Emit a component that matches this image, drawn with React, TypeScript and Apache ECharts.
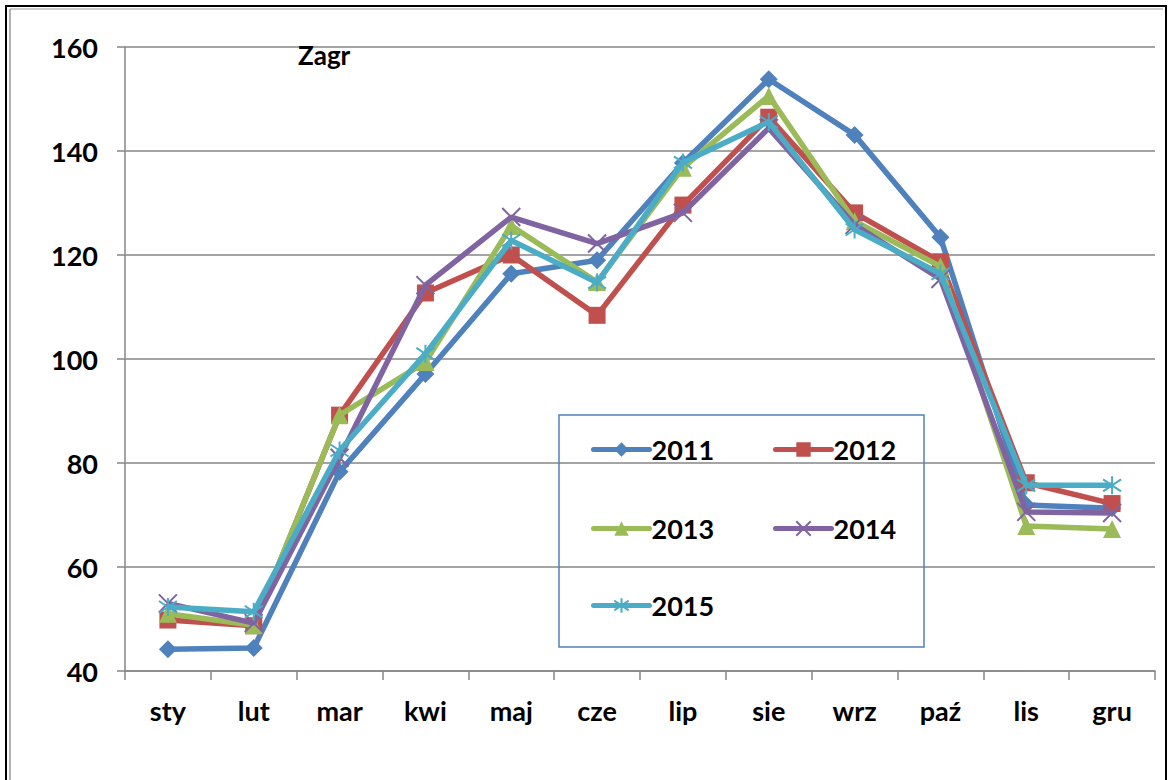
import React, { useEffect, useRef } from "react";
import * as echarts from "echarts";

const categories = ["sty", "lut", "mar", "kwi", "maj", "cze", "lip", "sie", "wrz", "paź", "lis", "gru"];
const s2011 = [44.2, 44.4, 78.3, 97.1, 116.4, 119.0, 137.7, 153.8, 143.1, 123.4, 71.9, 71.3];
const s2012 = [49.8, 48.7, 89.2, 112.7, 120.0, 108.4, 129.6, 146.5, 128.1, 118.7, 76.2, 72.2];
const s2013 = [51.0, 48.8, 89.2, 99.4, 125.6, 114.8, 136.8, 150.6, 126.5, 117.8, 67.9, 67.3];
const s2014 = [53.0, 49.2, 81.0, 114.2, 127.3, 122.2, 128.1, 144.4, 125.8, 115.4, 70.6, 70.4];
const s2015 = [52.3, 51.4, 82.4, 101.0, 122.8, 114.7, 137.8, 145.6, 124.9, 116.4, 75.7, 75.7];
const yTicks = { min: 40, max: 160, interval: 20 };

const seriesNames = ["2011", "2012", "2013", "2014", "2015"];
const seriesData = [s2011, s2012, s2013, s2014, s2015];
const colors = ["#4F81BD", "#C0504D", "#9BBB59", "#8064A2", "#4BACC6"];
const symbols = [
  "diamond",
  "rect",
  "triangle",
  "path://M0,0L10,10M10,0L0,10",
  "path://M0,1L10,9M10,1L0,9M5,-1L5,11",
];
const symbolSizes = [18, 17, 18, 18, 18];

const FONT = "Lato, 'Open Sans', sans-serif";

export default function App() {
  const ref = useRef<HTMLDivElement>(null);
  useEffect(() => {
    if (!ref.current) return;
    const chart = echarts.init(ref.current, null, { renderer: "svg" });
    const isStroke = (i: number) => i >= 3;
    const series = seriesNames.map((name, i) => ({
      name,
      type: "line",
      data: seriesData[i],
      symbol: symbols[i],
      symbolSize: symbolSizes[i],
      showAllSymbol: true,
      lineStyle: { color: colors[i], width: 5.5 },
      itemStyle: isStroke(i)
        ? { color: colors[i], borderColor: colors[i], borderWidth: 2 }
        : { color: colors[i], borderWidth: 0 },
      z: 2 + i,
    }));
    const legendPos = [
      { left: 591, cy: 452 },
      { left: 773, cy: 452 },
      { left: 591, cy: 531 },
      { left: 773, cy: 531 },
      { left: 591, cy: 608 },
    ];
    const legends = seriesNames.map((name, i) => ({
      data: [name],
      left: legendPos[i].left,
      top: legendPos[i].cy - 16,
      itemWidth: 56,
      itemHeight: 18,
      itemGap: 0,
      padding: 0,
      z: 20,
      lineStyle: { width: 5, cap: "round", color: colors[i] },
      textStyle: { fontFamily: FONT, fontWeight: "bold", fontSize: 27, color: "#000", padding: [0, 0, 0, -3] },
    }));
    chart.setOption({
      animation: false,
      backgroundColor: "#fff",
      title: {
        text: "Zagr",
        left: 298,
        top: 42,
        padding: 0,
        textStyle: { fontFamily: FONT, fontWeight: "bold", fontSize: 26, color: "#000" },
      },
      legend: legends,
      grid: { left: 125, top: 47, right: 19, bottom: 109, containLabel: false },
      xAxis: {
        type: "category",
        data: categories,
        boundaryGap: true,
        axisLine: { lineStyle: { color: "#868686", width: 1.5 } },
        axisTick: { show: true, length: 9, alignWithLabel: false, lineStyle: { color: "#868686", width: 1.5 } },
        axisLabel: { margin: 26, fontFamily: FONT, fontWeight: "bold", fontSize: 27, color: "#000", interval: 0 },
        splitLine: { show: false },
      },
      yAxis: {
        type: "value",
        min: yTicks.min,
        max: yTicks.max,
        interval: yTicks.interval,
        axisLine: { show: true, lineStyle: { color: "#868686", width: 1.5 } },
        axisTick: { show: true, length: 8, lineStyle: { color: "#868686", width: 1.5 } },
        axisLabel: { margin: 27, fontFamily: FONT, fontWeight: "bold", fontSize: 27, color: "#000" },
        splitLine: { show: true, lineStyle: { color: "#868686", width: 1.5 } },
      },
      graphic: [
        {
          type: "rect",
          shape: { x: 559, y: 415, width: 365, height: 232 },
          style: { fill: "none", stroke: "#4F81BD", lineWidth: 1.5 },
          z: 1,
          silent: true,
        },
        {
          type: "rect",
          shape: { x: 6, y: 6, width: 1160, height: 790 },
          style: { fill: "none", stroke: "#000", lineWidth: 2 },
          silent: true,
        },
        {
          type: "line",
          shape: { x1: 10, y1: 9, x2: 10, y2: 780 },
          style: { stroke: "#9a9a9a", lineWidth: 1.5 },
          silent: true,
        },
        {
          type: "line",
          shape: { x1: 10, y1: 9, x2: 1163, y2: 9 },
          style: { stroke: "#9a9a9a", lineWidth: 1 },
          silent: true,
        },
      ],
      series,
    });
    return () => chart.dispose();
  }, []);
  return (
    <div
      ref={ref}
      style={{ position: "absolute", left: 0, top: 0, width: 1174, height: 780, background: "#fff" }}
    />
  );
}
